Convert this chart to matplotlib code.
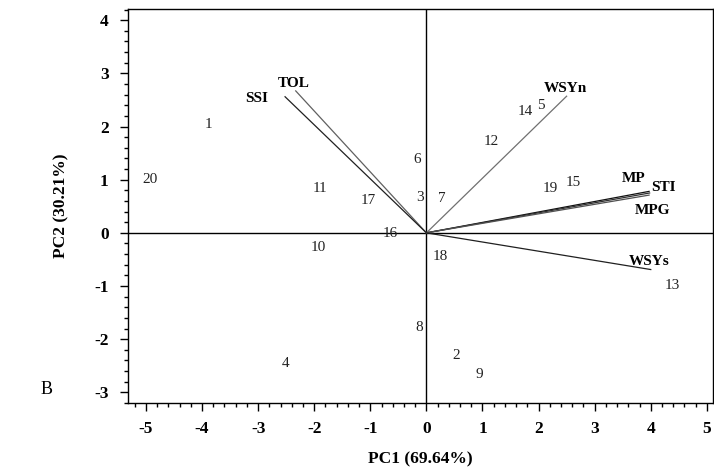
import matplotlib.pyplot as plt
from matplotlib.ticker import MultipleLocator

plt.rcParams['font.family'] = ['Liberation Serif', 'DejaVu Serif']
plt.rcParams['axes.unicode_minus'] = False

# scores of the 20 genotypes
genotypes = ['1', '2', '3', '4', '5', '6', '7', '8', '9', '10',
             '11', '12', '13', '14', '15', '16', '17', '18', '19', '20']
pc1 = [-3.88, 0.54, -0.12, -2.51, 2.04, -0.17, 0.27, -0.13, 0.95, -1.92,
       -1.89, 1.16, 4.38, 1.76, 2.62, -0.64, -1.04, 0.25, 2.21, -4.92]
pc2 = [2.04, -2.30, 0.67, -2.45, 2.40, 1.38, 0.64, -1.78, -2.66, -0.28,
       0.83, 1.71, -0.99, 2.29, 0.94, -0.02, 0.61, -0.45, 0.84, 1.01]

# loading vectors of the indices
indices = ['TOL', 'SSI', 'WSYn', 'MP', 'STI', 'MPG', 'WSYs']
load1 = [-2.33, -2.52, 2.50, 3.97, 3.98, 3.97, 4.00]
load2 = [2.67, 2.56, 2.57, 0.78, 0.75, 0.71, -0.69]
vec_colors = ['#606060', '#202020', '#707070', '#101010', '#303030', '#505050', '#202020']
# label positions of the indices
lab1 = [-2.37, -3.02, 2.48, 3.69, 4.22, 4.04, 3.98]
lab2 = [2.81, 2.53, 2.72, 1.02, 0.86, 0.42, -0.54]

fig = plt.figure(figsize=(7.14, 4.72), dpi=100)
ax = fig.add_axes([0.1793, 0.1462, 0.8193, 0.8347])

ax.axhline(0, color='black', lw=1)
ax.axvline(0, color='black', lw=1)

for i in range(len(indices)):
    ax.plot([0, load1[i]], [0, load2[i]], color=vec_colors[i], lw=0.9)
    ax.text(lab1[i], lab2[i], indices[i], ha='center', va='center',
            fontsize=11, fontweight='bold')

for i in range(len(genotypes)):
    ax.text(pc1[i], pc2[i], genotypes[i], ha='center', va='center',
            fontsize=11, color='#222222')

ax.set_xlim(-5.32, 5.11)
ax.set_ylim(-3.2, 4.21)
ax.xaxis.set_major_locator(MultipleLocator(1))
ax.xaxis.set_minor_locator(MultipleLocator(0.2))
ax.yaxis.set_major_locator(MultipleLocator(1))
ax.yaxis.set_minor_locator(MultipleLocator(0.2))
ax.tick_params(which='major', direction='out', length=6, width=1,
               labelsize=12.5)
ax.tick_params(which='minor', direction='out', length=3, width=1)
for lbl in ax.get_xticklabels() + ax.get_yticklabels():
    lbl.set_fontweight('bold')
ax.tick_params(axis='x', pad=7)
ax.tick_params(axis='y', pad=8)
for s in ax.spines.values():
    s.set_linewidth(1)

ax.set_xlabel('PC1 (69.64%)', fontsize=12.5, fontweight='bold', labelpad=10)
ax.set_ylabel('PC2 (30.21%)', fontsize=12.5, fontweight='bold', labelpad=18)
fig.text(47 / 714, 1 - 390 / 472, 'B', ha='center', va='center', fontsize=13)

plt.savefig('out.png', dpi=100)
